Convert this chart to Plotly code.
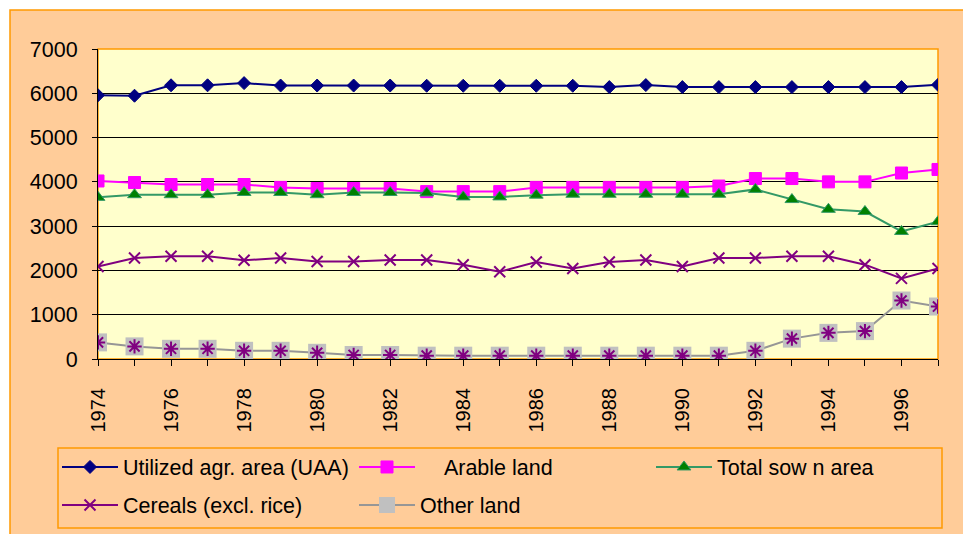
import plotly.graph_objects as go

years = [1974, 1975, 1976, 1977, 1978, 1979, 1980, 1981, 1982, 1983, 1984, 1985,
         1986, 1987, 1988, 1989, 1990, 1991, 1992, 1993, 1994, 1995, 1996, 1997]
uaa = [5955, 5945, 6180, 6180, 6230, 6175, 6175, 6175, 6175, 6170, 6170, 6170,
       6170, 6170, 6140, 6185, 6140, 6140, 6140, 6140, 6140, 6140, 6140, 6190]
arable = [4020, 3985, 3940, 3940, 3940, 3875, 3850, 3850, 3850, 3780, 3780, 3780,
          3875, 3875, 3875, 3875, 3875, 3905, 4075, 4075, 4000, 4000, 4200, 4280]
sown = [3650, 3710, 3710, 3710, 3760, 3760, 3710, 3760, 3760, 3750, 3660, 3660,
        3700, 3720, 3720, 3720, 3720, 3720, 3830, 3600, 3380, 3330, 2880, 3100]
cereals = [2090, 2280, 2320, 2320, 2230, 2280, 2200, 2200, 2235, 2235, 2130, 1970,
           2190, 2045, 2190, 2235, 2090, 2280, 2280, 2320, 2320, 2130, 1820, 2045]
other = [375, 285, 230, 230, 185, 185, 140, 90, 90, 75, 75, 75,
         75, 75, 75, 75, 75, 75, 185, 460, 590, 630, 1320, 1185]

x_tick_labels = ["1974", "", "1976", "", "1978", "", "1980", "", "1982", "", "1984", "",
                 "1986", "", "1988", "", "1990", "", "1992", "", "1994", "", "1996", ""]
y_tick_vals = [0, 1000, 2000, 3000, 4000, 5000, 6000, 7000]
y_tick_labels = ["0", "1000", "2000", "3000", "4000", "5000", "6000", "7000"]

names = ["Utilized agr. area (UAA)", "\u00a0\u00a0\u00a0\u00a0Arable land", "Total sow n area",
         "Cereals (excl. rice)", "Other land"]

# page body has an 8px margin; figure coordinates are screen coordinates minus 8
OFF = 8
W, H = 971, 534
L, T = 98 - OFF, 49 - OFF
R = W - (938 - OFF)
B = H - (359 - OFF)
pw, ph = W - L - R, H - T - B


def px_x(p):
    """screen pixel x -> paper x"""
    return (p - OFF - L) / pw


def px_y(p):
    """screen pixel y -> paper y"""
    return (H - B - (p - OFF)) / ph


FONT = "Liberation Sans, Arial, sans-serif"
PEACH = "#FFCC99"
ORANGE = "#FF9900"

fig = go.Figure()
fig.add_trace(go.Scatter(x=years, y=uaa, name=names[0], mode="lines+markers", legend="legend",
                         line=dict(color="#000080", width=2),
                         marker=dict(symbol="diamond", size=10, color="#000080",
                                     line=dict(color="#000080", width=1))))
fig.add_trace(go.Scatter(x=years, y=arable, name=names[1], mode="lines+markers", legend="legend",
                         line=dict(color="#FF00FF", width=2),
                         marker=dict(symbol="square", size=12, color="#FF00FF",
                                     line=dict(color="#FF00FF", width=1))))
fig.add_trace(go.Scatter(x=years, y=sown, name=names[2], mode="lines+markers", legend="legend",
                         line=dict(color="#339966", width=2),
                         marker=dict(symbol="triangle-up", size=12, color="#008000",
                                     line=dict(color="#339966", width=1))))
fig.add_trace(go.Scatter(x=years, y=cereals, name=names[3], mode="lines+markers", legend="legend2",
                         line=dict(color="#800080", width=2),
                         marker=dict(symbol="x-thin", size=11, color="#800080",
                                     line=dict(color="#800080", width=2))))
fig.add_trace(go.Scatter(x=years, y=other, name=names[4], mode="lines+markers", legend="legend2",
                         line=dict(color="#969696", width=2),
                         marker=dict(symbol="square", size=18, color="#C0C0C0",
                                     line=dict(color="#C0C0C0", width=0))))
fig.add_trace(go.Scatter(x=years, y=other, name=names[4], mode="markers", showlegend=False,
                         marker=dict(symbol="asterisk-open", size=12, color="#800080",
                                     line=dict(color="#800080", width=2))))

shapes = [
    # white strips outside chart area
    dict(type="rect", xref="paper", yref="paper", x0=px_x(0), x1=px_x(990), y0=px_y(10), y1=px_y(0),
         fillcolor="white", line=dict(width=0), layer="below"),
    dict(type="rect", xref="paper", yref="paper", x0=px_x(0), x1=px_x(10), y0=px_y(550), y1=px_y(0),
         fillcolor="white", line=dict(width=0), layer="below"),
    # outer chart border
    dict(type="rect", xref="paper", yref="paper", x0=px_x(10), x1=px_x(1000), y0=px_y(560), y1=px_y(10),
         line=dict(color=ORANGE, width=1.5), layer="below"),
    # plot area border
    dict(type="rect", xref="paper", yref="paper", x0=0, x1=1, y0=0, y1=1,
         line=dict(color=ORANGE, width=1.5), layer="below"),
    # legend box
    dict(type="rect", xref="paper", yref="paper", x0=px_x(58), x1=px_x(942), y0=px_y(528), y1=px_y(448),
         line=dict(color=ORANGE, width=1.5), layer="below"),
]

legend_common = dict(orientation="h", xanchor="left", yanchor="middle",
                     bgcolor="rgba(0,0,0,0)", borderwidth=0, entrywidth=226,
                     entrywidthmode="pixels", itemwidth=56,
                     font=dict(family=FONT, size=21.5), traceorder="normal")

fig.update_layout(
    width=W, height=H,
    margin=dict(l=L, r=R, t=T, b=B, autoexpand=False),
    paper_bgcolor=PEACH,
    plot_bgcolor="#FFFFCC",
    font=dict(family=FONT, size=21, color="black"),
    shapes=shapes,
    legend=dict(x=px_x(57), y=px_y(467), **legend_common),
    legend2=dict(x=px_x(57), y=px_y(505), **legend_common),
    xaxis=dict(range=[1974, 1997], tickmode="array", tickvals=years, ticktext=x_tick_labels,
               tickangle=-90, ticks="outside", ticklen=6, tickcolor="black", showgrid=False,
               showline=True, linecolor="black", linewidth=1, zeroline=False,
               ticklabelstandoff=14, tickfont=dict(family=FONT, size=20)),
    yaxis=dict(range=[0, 7000], tickmode="array", tickvals=y_tick_vals, ticktext=y_tick_labels,
               ticks="outside", ticklen=5, tickcolor="black", showgrid=True, gridcolor="black",
               gridwidth=1, showline=True, linecolor="black", linewidth=1, zeroline=False,
               ticklabelstandoff=10, tickfont=dict(family=FONT, size=21.5)),
)

fig.write_html("out.html")
